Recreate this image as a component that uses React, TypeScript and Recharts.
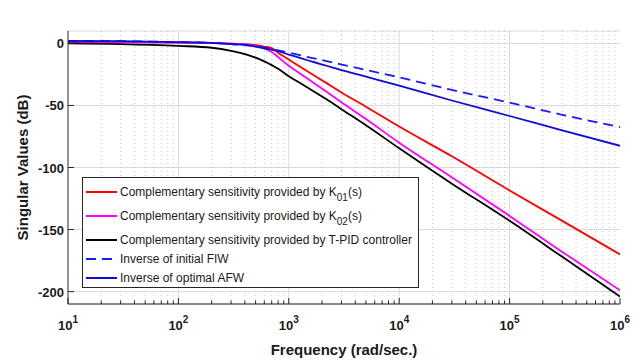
import React from 'react';
import { LineChart, Line, XAxis, YAxis, CartesianGrid, ReferenceLine, Legend, Label } from 'recharts';

// Frequency samples (rad/sec)
const FREQ = [10, 30, 100, 200, 300, 450, 600, 700, 800, 1000, 1300, 1600, 2200, 3000, 5000, 10000, 30000, 100000, 300000, 1000000];
// Singular values (dB)
const T_K01 = [1, 1, 0.7, 0.5, -0.2, -1, -2.5, -3.8, -7.5, -13, -19.5, -24.5, -32, -39.5, -51, -67, -91, -118.5, -143, -170];
const T_K02 = [1, 1, 0.7, 0.5, -0.2, -1.3, -4, -7, -11, -18, -25, -30.5, -39, -47.5, -61, -80, -108, -139, -168, -199];
const T_PID = [0, -0.5, -2, -3.5, -6, -10, -14.5, -17.5, -20.5, -26.5, -32.5, -37.5, -45, -53, -66, -84.5, -113, -143, -172, -204];
const INV_FIW = [2, 1.8, 1, 0.5, -0.5, -1.8, -3.3, -4.5, -5.7, -7.5, -9.8, -11.6, -14.3, -17, -21.4, -27.3, -37.5, -47.7, -57.5, -67.5];
const INV_AFW = [2, 1.8, 1, 0.5, -0.5, -1.8, -4, -5, -6.3, -9, -12, -14.5, -18, -21.5, -26.8, -34, -46, -58.5, -70, -82.5];

const X_MAJOR = [10, 100, 1000, 10000, 100000, 1000000];
const X_MINOR_MULT = [2, 3, 4, 5, 6, 7, 8, 9];
const X_MINOR = X_MAJOR.slice(0, -1).flatMap((d) => X_MINOR_MULT.map((m) => m * d));
const X_TICKS = [...X_MAJOR, ...X_MINOR].sort((a, b) => a - b);
const Y_TICKS = [-200, -150, -100, -50, 0];

const TITLE = 'RS condition';
const X_LABEL = 'Frequency (rad/sec.)';
const Y_LABEL = 'Singular Values (dB)';

type SeriesCfg = { key: string; values: number[]; color: string; dash?: string; name: string; sub?: string; suffix?: string };
const SERIES: SeriesCfg[] = [
  { key: 'k01', values: T_K01, color: '#ff0000', name: 'Complementary sensitivity provided by K', sub: '01', suffix: '(s)' },
  { key: 'k02', values: T_K02, color: '#ff00ff', name: 'Complementary sensitivity provided by K', sub: '02', suffix: '(s)' },
  { key: 'pid', values: T_PID, color: '#000000', name: 'Complementary sensitivity provided by T-PID controller' },
  { key: 'fiw', values: INV_FIW, color: '#1a1aff', dash: '10 6', name: 'Inverse of initial FIW' },
  { key: 'afw', values: INV_AFW, color: '#0d0dd6', name: 'Inverse of optimal AFW' },
];

const data = FREQ.map((f, i) => {
  const row: Record<string, number> = { f };
  SERIES.forEach((s) => (row[s.key] = s.values[i]));
  return row;
});

const FONT = '"Liberation Sans", Arial, Helvetica, sans-serif';
const AXIS = '#262626';

const isMajor = (v: number) => X_MAJOR.includes(v);

const BottomTick = (props: any) => {
  const { x, y, payload } = props;
  const v = payload.value;
  const major = isMajor(v);
  const exp = Math.round(Math.log10(v));
  return (
    <g>
      <line x1={x} x2={x} y1={y} y2={y - (major ? 6 : 3.5)} stroke={AXIS} strokeWidth={1} />
      {major && (
        <text x={x} y={y + 26} textAnchor="middle" fontFamily={FONT} fontSize={13} fontWeight="bold" fill="#1a1a1a">
          10
          <tspan dy={-7} fontSize={10}>{exp}</tspan>
        </text>
      )}
    </g>
  );
};

const TopTick = (props: any) => {
  const { x, y, payload } = props;
  const major = isMajor(payload.value);
  return <line x1={x} x2={x} y1={y} y2={y + (major ? 6 : 3.5)} stroke={AXIS} strokeWidth={1} />;
};

const LeftTick = (props: any) => {
  const { x, y, payload } = props;
  return (
    <g>
      <line x1={x} x2={x + 6} y1={y} y2={y} stroke={AXIS} strokeWidth={1} />
      <text x={x - 4} y={y + 5} textAnchor="end" fontFamily={FONT} fontSize={13} fontWeight="bold" fill="#1a1a1a">
        {payload.value}
      </text>
    </g>
  );
};

const RightTick = (props: any) => {
  const { x, y } = props;
  return <line x1={x} x2={x - 6} y1={y} y2={y} stroke={AXIS} strokeWidth={1} />;
};

const LegendBox = () => {
  const rows = [24, 24, 24, 14, 24];
  return (
    <div
      style={{
        width: 337,
        height: 111,
        boxSizing: 'border-box',
        border: `1px solid ${AXIS}`,
        background: '#fff',
        paddingTop: 2,
        fontFamily: FONT,
        fontSize: 12,
        color: '#1a1a1a',
      }}
    >
      {SERIES.map((s, i) => (
        <div key={s.key} style={{ height: rows[i], display: 'flex', alignItems: 'center', whiteSpace: 'nowrap' }}>
          <svg width={31} height={4} style={{ marginLeft: 3, marginRight: 3, flex: 'none' }}>
            <line x1={0} x2={31} y1={2} y2={2} stroke={s.color} strokeWidth={2} strokeDasharray={s.dash} />
          </svg>
          <span style={{ lineHeight: '14px' }}>
            {s.name}
            {s.sub && <span style={{ position: 'relative', top: 5, fontSize: 10 }}>{s.sub}</span>}
            {s.suffix}
          </span>
        </div>
      ))}
    </div>
  );
};

export default function App() {
  return (
    <div style={{ position: 'absolute', left: 0, top: 0, width: 640, height: 362, background: '#fff', fontFamily: FONT }}>
      <LineChart width={640} height={362} data={data} margin={{ top: 31, right: 20, bottom: 0, left: 0 }}>
        <CartesianGrid vertical={false} stroke="#d9d9d9" strokeWidth={1} />
        {X_MINOR.map((v) => (
          <ReferenceLine key={'mn' + v} x={v} stroke="#c4c4c4" strokeWidth={1} strokeDasharray="1 3" />
        ))}
        {X_MAJOR.slice(1, -1).map((v) => (
          <ReferenceLine key={'mj' + v} x={v} stroke="#d9d9d9" strokeWidth={1} />
        ))}
        <XAxis
          dataKey="f"
          type="number"
          scale="log"
          domain={[10, 1000000]}
          allowDataOverflow
          ticks={X_TICKS}
          interval={0}
          height={58}
          tickSize={0}
          tickMargin={0}
          tickLine={false}
          axisLine={{ stroke: AXIS, strokeWidth: 1 }}
          tick={<BottomTick />}
        >
          <Label
            content={(p: any) => {
              const vb = p.viewBox || {};
              return (
                <text x={vb.x + vb.width / 2} y={vb.y + 51} textAnchor="middle" fontFamily={FONT} fontSize={15} fontWeight="bold" fill="#1a1a1a">
                  {X_LABEL}
                </text>
              );
            }}
          />
        </XAxis>
        <XAxis
          xAxisId="t"
          orientation="top"
          type="number"
          scale="log"
          domain={[10, 1000000]}
          allowDataOverflow
          ticks={X_TICKS}
          interval={0}
          height={0}
          tickSize={0}
          tickMargin={0}
          tickLine={false}
          axisLine={{ stroke: AXIS, strokeWidth: 1 }}
          tick={<TopTick />}
        >
          <Label
            content={(p: any) => {
              const vb = p.viewBox || {};
              return (
                <text x={vb.x + vb.width / 2} y={vb.y + vb.height - 8} textAnchor="middle" fontFamily={FONT} fontSize={15} fontWeight="bold" fill="#1a1a1a">
                  {TITLE}
                </text>
              );
            }}
          />
        </XAxis>
        <YAxis
          type="number"
          domain={[-210, 10]}
          allowDataOverflow
          ticks={Y_TICKS}
          interval={0}
          width={68}
          tickSize={0}
          tickMargin={0}
          tickLine={false}
          axisLine={{ stroke: AXIS, strokeWidth: 1 }}
          tick={<LeftTick />}
        >
          <Label
            content={(p: any) => {
              const vb = p.viewBox || {};
              const cx = vb.x + 28;
              const cy = vb.y + vb.height / 2;
              return (
                <text x={cx} y={cy} transform={`rotate(-90 ${cx} ${cy})`} textAnchor="middle" fontFamily={FONT} fontSize={15} fontWeight="bold" fill="#1a1a1a">
                  {Y_LABEL}
                </text>
              );
            }}
          />
        </YAxis>
        <YAxis
          yAxisId="r"
          orientation="right"
          type="number"
          domain={[-210, 10]}
          allowDataOverflow
          ticks={Y_TICKS}
          interval={0}
          width={0}
          tickSize={0}
          tickMargin={0}
          tickLine={false}
          axisLine={{ stroke: AXIS, strokeWidth: 1 }}
          tick={<RightTick />}
        />
        {SERIES.map((s) => (
          <Line
            key={s.key}
            dataKey={s.key}
            name={s.name}
            type="monotone"
            stroke={s.color}
            strokeWidth={1.8}
            strokeDasharray={s.dash}
            dot={false}
            activeDot={false}
            isAnimationActive={false}
          />
        ))}
        <Legend
          layout="vertical"
          align="center"
          verticalAlign="middle"
          content={() => <LegendBox />}
          wrapperStyle={{ position: 'absolute', left: 82, top: 177, width: 337, height: 111 }}
        />
      </LineChart>
    </div>
  );
}
